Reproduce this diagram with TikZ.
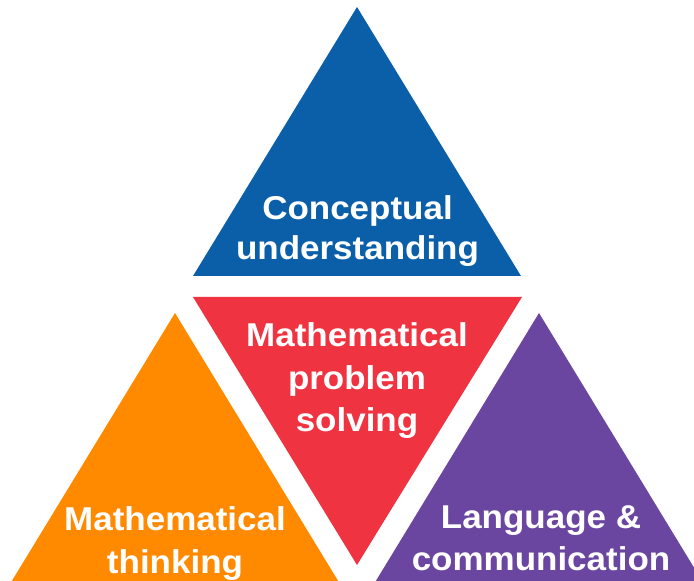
\documentclass[tikz,border=0pt]{standalone}
\usepackage{fontspec}
\setmainfont{Liberation Sans}[FakeStretch=1.06]
\definecolor{cublue}{HTML}{0A5FA8}
\definecolor{mpred}{HTML}{EF3340}
\definecolor{mtorange}{HTML}{FF8A00}
\definecolor{lcpurple}{HTML}{6B46A0}
\begin{document}
\begin{tikzpicture}[x=1pt,y=1pt,
  lbl/.style={text=white,font=\fontsize{33}{40}\selectfont\bfseries,anchor=base,inner sep=0pt}]
\useasboundingbox (0,0) rectangle (694,581);
\begin{scope}
\clip (0,0) rectangle (694,581);
% blue top triangle
\fill[cublue] (193,305) -- (357,574) -- (521,305) -- cycle;
% red inverted triangle
\fill[mpred] (193,284) -- (522,284) -- (357,16) -- cycle;
% orange bottom-left triangle
\fill[mtorange] (175,268) -- (340,-3) -- (10,-3) -- cycle;
% purple bottom-right triangle
\fill[lcpurple] (539,268) -- (704,-3) -- (374,-3) -- cycle;
\end{scope}
% labels
\node[lbl] (cu1) at (357.5,361) {Conceptual};
\node[lbl] (cu2) at (357.5,321) {understanding};
\node[lbl] (mp1) at (357,234) {Mathematical};
\node[lbl] (mp2) at (357,191) {problem};
\node[lbl] (mp3) at (357,149) {solving};
\node[lbl] (mt1) at (175,50) {Mathematical};
\node[lbl] (mt2) at (175,7) {thinking};
\node[lbl] (lc1) at (541,52) {Language \&};
\node[lbl] (lc2) at (541,10) {communication};
\end{tikzpicture}
\end{document}
